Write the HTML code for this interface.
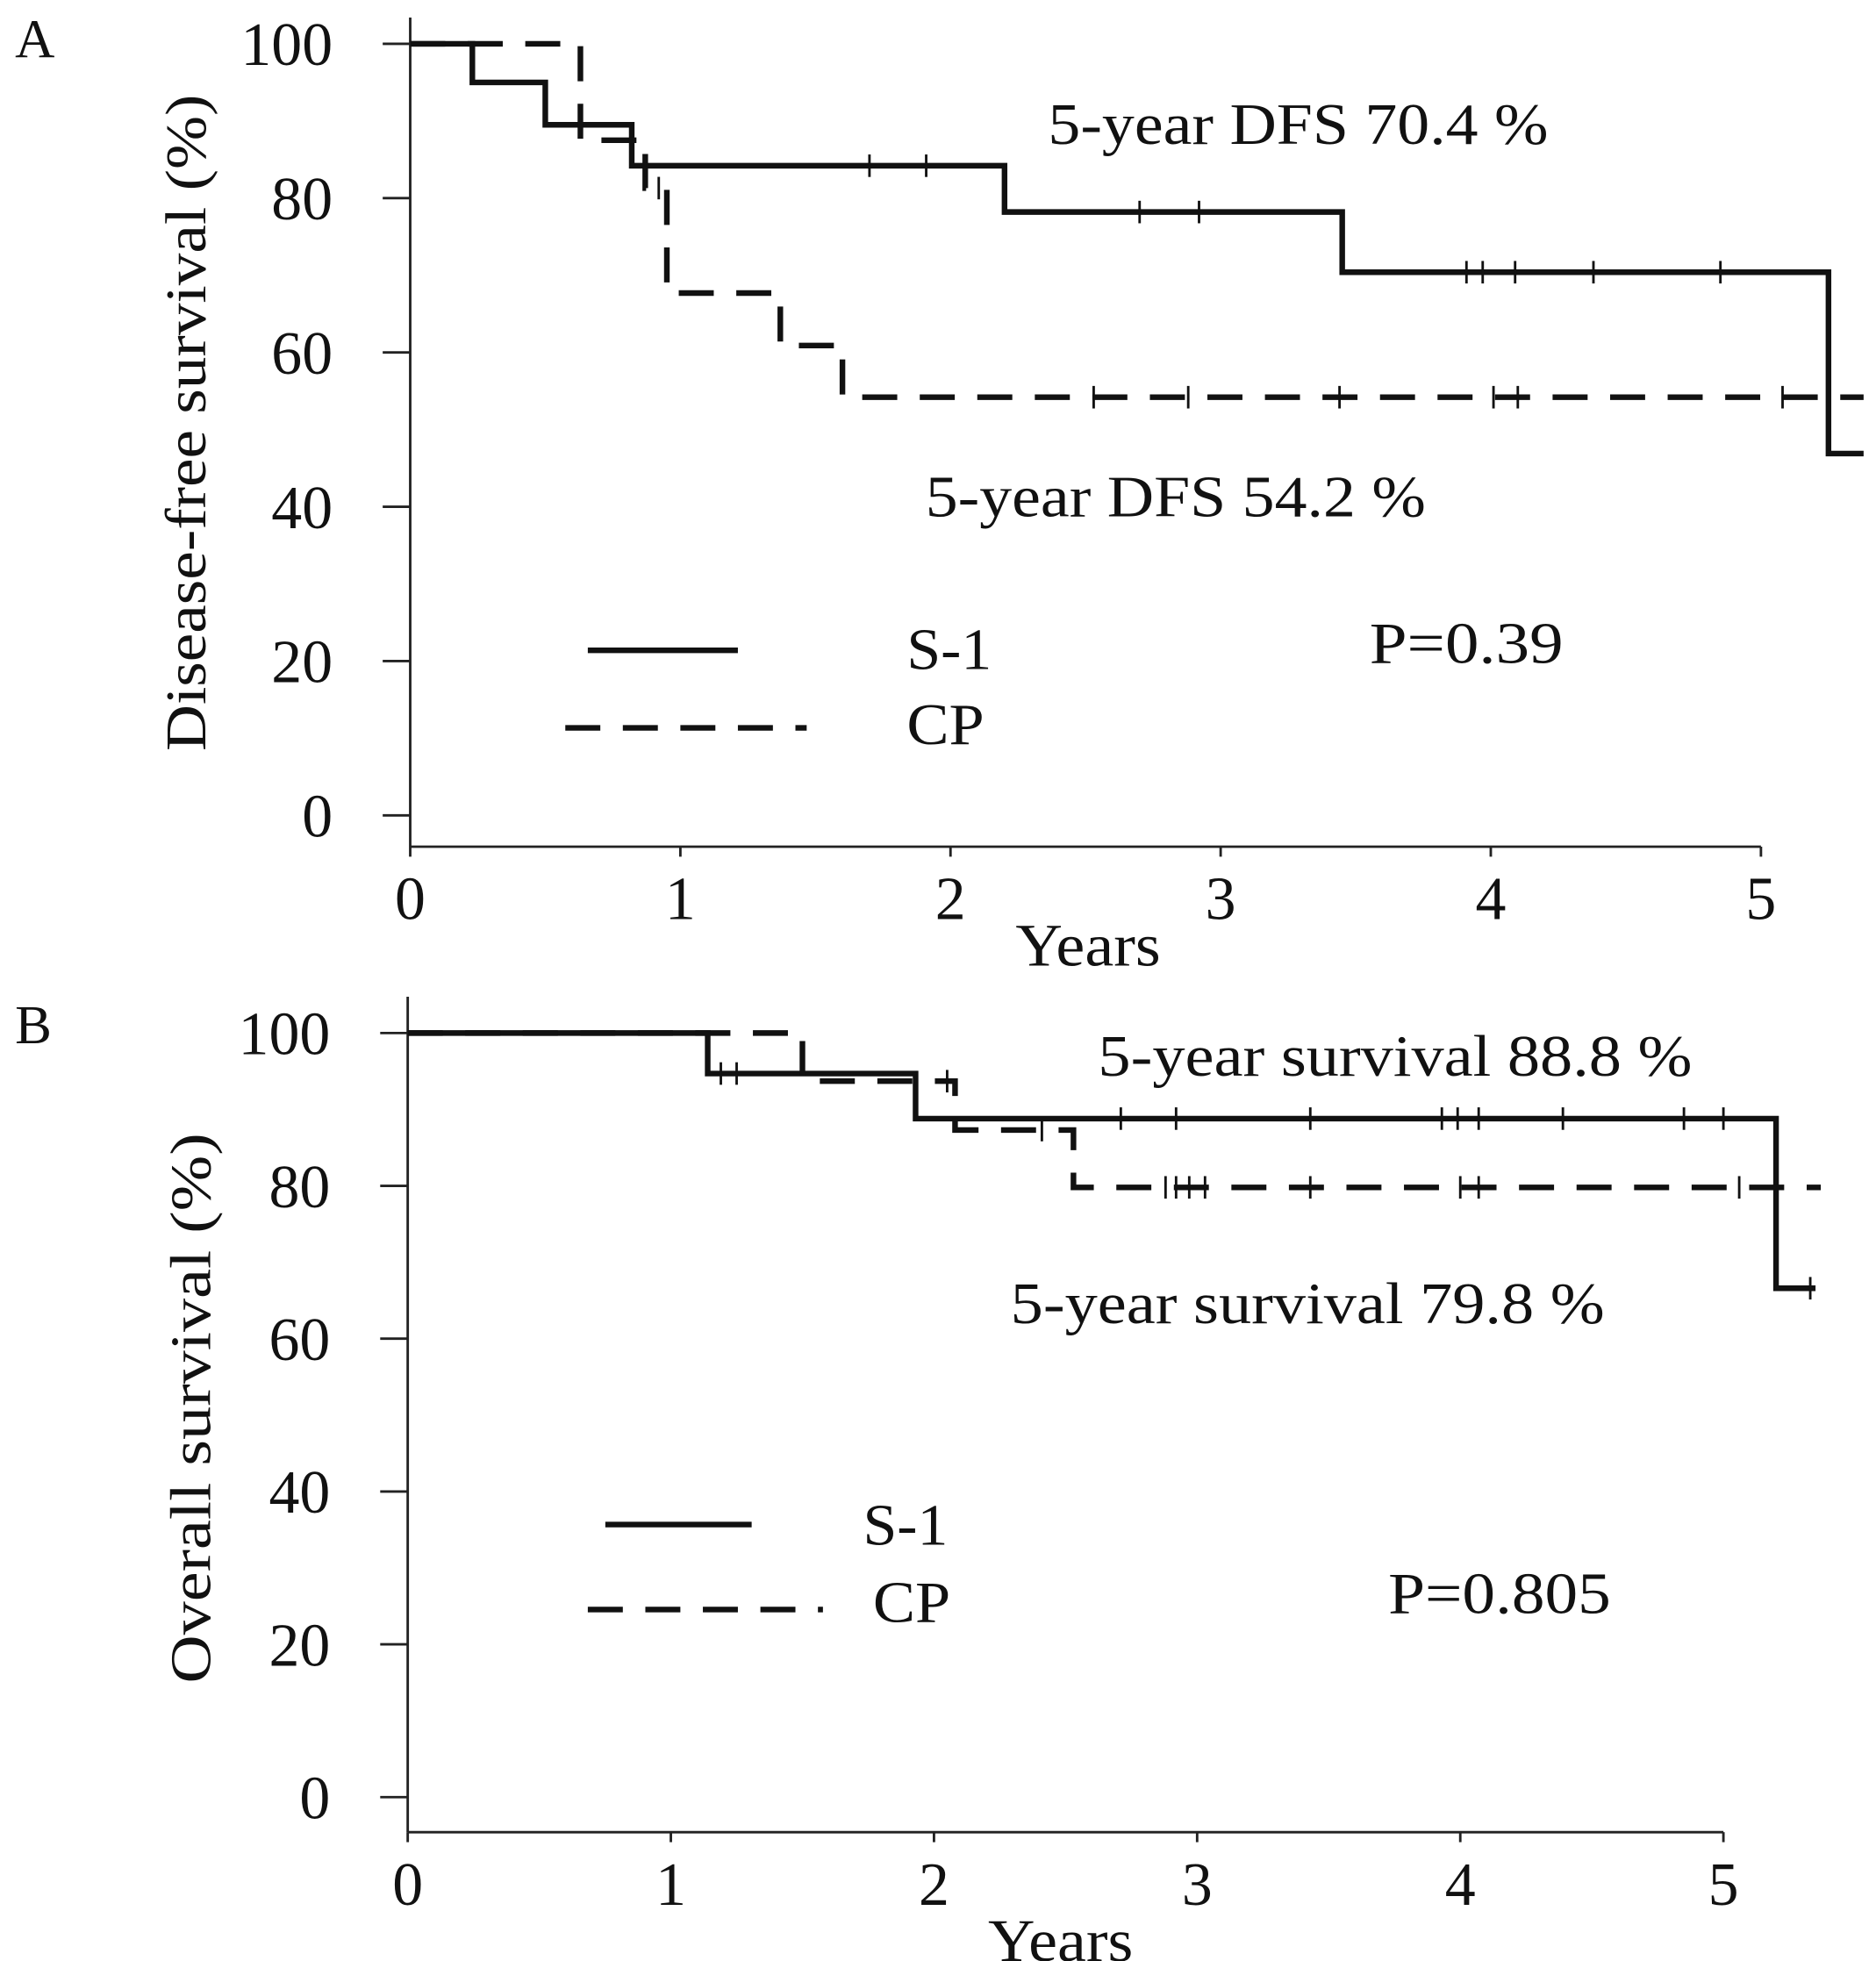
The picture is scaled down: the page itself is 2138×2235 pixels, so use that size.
<!DOCTYPE html>
<html><head><meta charset="utf-8"><style>
html,body{margin:0;padding:0;background:#fff;}
svg{display:block;}
svg text{font-family:"Liberation Serif","Times New Roman",Times,serif;fill:#111;}
</style></head><body>
<svg id="fig" width="2138" height="2235" viewBox="0 0 1500 1568" xmlns="http://www.w3.org/2000/svg" font-family="'Liberation Serif', 'Times New Roman', serif"></svg>
<script>
// ---------- Panel A data (disease-free survival) ----------
const aS1Times=[0,0.23,0.5,0.82,2.2,3.45,5.25];
const aS1Vals=[100,95,89.5,84.2,78.2,70.4,46.9];
const aS1End=5.38;
const aS1CensT=[0.87,1.7,1.91,2.7,2.92,3.91,3.97,4.09,4.38,4.85];
const aS1CensV=[84.2,84.2,84.2,78.2,78.2,70.4,70.4,70.4,70.4,70.4];
const aCPTimes=[0,0.63,0.87,0.95,1.37,1.6];
const aCPVals=[100,87.5,81.3,67.7,60.9,54.2];
const aCPEnd=5.38;
const aCPCensT=[0.92,2.53,2.88,3.44,4.01,4.1,5.08];
const aCPCensV=[81.3,54.2,54.2,54.2,54.2,54.2,54.2];
// ---------- Panel B data (overall survival) ----------
const bS1Times=[0,1.14,1.93,5.2];
const bS1Vals=[100,94.7,88.8,66.6];
const bS1End=5.35;
const bS1CensT=[1.19,1.25,2.71,2.92,3.43,3.93,3.99,4.07,4.39,4.85,5.0,5.33];
const bS1CensV=[94.7,94.7,88.8,88.8,88.8,88.8,88.8,88.8,88.8,88.8,88.8,66.6];
const bCPTimes=[0,1.5,2.08,2.53];
const bCPVals=[100,93.7,87.3,79.8];
const bCPEnd=5.37;
const bCPCensT=[2.05,2.41,2.88,2.92,2.97,3.03,3.43,4.0,4.07,5.06];
const bCPCensV=[93.7,87.3,79.8,79.8,79.8,79.8,79.8,79.8,79.8,79.8];
const yTicks=[0,20,40,60,80,100];
const xTicks=[0,1,2,3,4,5];

const NS="http://www.w3.org/2000/svg";
const svg=document.getElementById('fig');
const FF="'Liberation Serif', 'Times New Roman', serif";
function mk(tag,attrs,parent){const e=document.createElementNS(NS,tag);for(const k in attrs)e.setAttribute(k,attrs[k]);if(tag==='text')e.setAttribute('font-family',FF);(parent||svg).appendChild(e);return e;}

function panel(p){
  const g=mk('g',{});
  
  
  const X=t=>p.x0+t*p.sx, Y=v=>p.y0-v*p.sy;
  const ya=mk('line',{x1:p.x0,y1:p.axTop,x2:p.x0,y2:p.xAxisY,stroke:'#222','stroke-width':2},g);
  
  const xa=mk('line',{x1:p.x0,y1:p.xAxisY,x2:X(5),y2:p.xAxisY,stroke:'#222','stroke-width':2},g);
  
  yTicks.forEach(v=>{
    mk('line',{x1:p.x0-22,y1:Y(v),x2:p.x0,y2:Y(v),stroke:'#222','stroke-width':2},g);
    const t=mk('text',{x:p.x0-62,y:Y(v)+17,'text-anchor':'end','font-size':49},g);
    t.textContent=v;
    
    
  });
  xTicks.forEach(v=>{
    mk('line',{x1:X(v),y1:p.xAxisY,x2:X(v),y2:p.xAxisY+8,stroke:'#222','stroke-width':2},g);
    const t=mk('text',{x:X(v),y:p.xAxisY+58,'text-anchor':'middle','font-size':49},g);
    t.textContent=v;
    
    
  });
  const xt=mk('text',{x:p.xtX,y:p.xtY,'font-size':48,textLength:116,lengthAdjust:'spacingAndGlyphs'},g);xt.textContent='Years';
  
  const yt=mk('text',{x:0,y:0,'font-size':46,'text-anchor':'middle',textLength:p.ytLen,lengthAdjust:'spacingAndGlyphs',transform:`translate(${p.ytX},${p.ytY}) rotate(-90)`},g);
  yt.textContent=p.ytitle;
  
  const lt=mk('text',{x:12,y:p.letterY,'font-size':44},g);lt.textContent=p.letter;
  
  function curve(times,vals,end,dash,name){
    let d=`M${X(times[0])},${Y(vals[0])}`;
    for(let i=1;i<times.length;i++){d+=` H${X(times[i])} V${Y(vals[i])}`;}
    d+=` H${X(end)}`;
    const path=mk('path',{d:d,fill:'none',stroke:'#111','stroke-width':4.5,'stroke-dasharray':dash||'none'},g);
    
    
  }
  function cens(ts,vs,name){
    ts.forEach((t,i)=>{
      const c=mk('line',{x1:X(t),y1:Y(vs[i])-9,x2:X(t),y2:Y(vs[i])+9,stroke:'#111','stroke-width':2},g);
      
      
    });
  }
  curve(p.s1t,p.s1v,p.s1e,null,'s1-curve');
  curve(p.cpt,p.cpv,p.cpe,'28 18','cp-curve');
  cens(p.s1ct,p.s1cv,'s1-censor-mark');
  cens(p.cpct,p.cpcv,'cp-censor-mark');
  p.ann.forEach(a=>{
    const t=mk('text',{x:a[0],y:a[1],'font-size':47,textLength:a[3],lengthAdjust:'spacingAndGlyphs'},g);
    t.textContent=a[2];
    
    
  });
  const l1=mk('line',{x1:p.leg[0],y1:p.leg[1],x2:p.leg[2],y2:p.leg[1],stroke:'#111','stroke-width':4.5},g);
  
  const l2=mk('line',{x1:p.leg[3],y1:p.leg[4],x2:p.leg[5],y2:p.leg[4],stroke:'#111','stroke-width':4.5,'stroke-dasharray':'28 18'},g);
  
}

panel({name:'panel-a',letter:'A',letterY:46,x0:328,sx:216,y0:652,sy:6.17,axTop:14,xAxisY:677,
  xtX:812,xtY:772,ytX:164,ytY:338,ytLen:525,ytitle:'Disease-free survival (%)',
  s1t:aS1Times,s1v:aS1Vals,s1e:aS1End,s1ct:aS1CensT,s1cv:aS1CensV,
  cpt:aCPTimes,cpv:aCPVals,cpe:aCPEnd,cpct:aCPCensT,cpcv:aCPCensV,
  ann:[[838,115,'5-year DFS  70.4 %',400,'annotation-s1-dfs'],[740,413,'5-year DFS  54.2 %',400,'annotation-cp-dfs'],
       [1095,530,'P=0.39',155,'p-value'],[725,535,'S-1',68,'legend-s1-label'],[725,595,'CP',62,'legend-cp-label']],
  leg:[470,520,590,452,582,645]});
panel({name:'panel-b',letter:'B',letterY:834,x0:326,sx:210.4,y0:1437,sy:6.11,axTop:797,xAxisY:1465,
  xtX:790,xtY:1568,ytX:168,ytY:1126,ytLen:440,ytitle:'Overall survival (%)',
  s1t:bS1Times,s1v:bS1Vals,s1e:bS1End,s1ct:bS1CensT,s1cv:bS1CensV,
  cpt:bCPTimes,cpv:bCPVals,cpe:bCPEnd,cpct:bCPCensT,cpcv:bCPCensV,
  ann:[[878,860,'5-year survival  88.8 %',475,'annotation-s1-os'],[808,1058,'5-year survival  79.8 %',475,'annotation-cp-os'],
       [1110,1290,'P=0.805',178,'p-value'],[690,1235,'S-1',68,'legend-s1-label'],[698,1297,'CP',62,'legend-cp-label']],
  leg:[484,1219,601,470,1287,658]});
</script>
</body></html>
